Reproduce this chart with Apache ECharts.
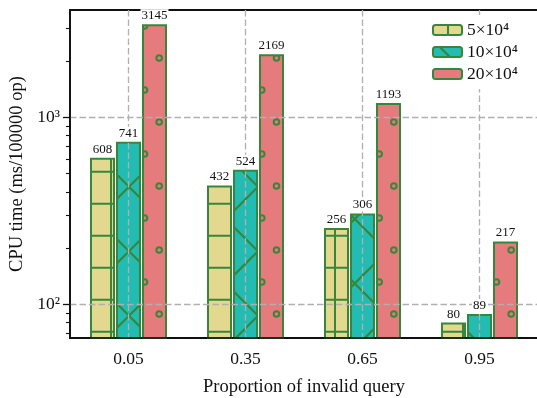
<!DOCTYPE html>
<html><head><meta charset="utf-8">
<script src="https://cdn.jsdelivr.net/npm/echarts@6/dist/echarts.min.js"></script>
<style>html,body{margin:0;padding:0;background:#fff}#c{width:537px;height:398px}</style>
</head><body><div id="c"></div>
<script>
const categories = ['0.05', '0.35', '0.65', '0.95'];
const seriesNames = ['5×10⁴', '10×10⁴', '20×10⁴'];
const values5 = [608, 432, 256, 80];
const values10 = [741, 524, 306, 89];
const values20 = [3145, 2169, 1193, 217];
const yTicks = [100, 1000];
const yMinorTicks = [70, 80, 90, 200, 300, 400, 500, 600, 700, 800, 900, 2000, 3000];

const EDGE = '#38863c';
const FONT = '"Liberation Serif", "Times New Roman", serif';
const SUP = {'0':'⁰','1':'¹','2':'²','3':'³','4':'⁴','5':'⁵'};

function tile(w, h, bg, draw) {
  const c = document.createElement('canvas');
  c.width = w; c.height = h;
  const g = c.getContext('2d');
  g.fillStyle = bg; g.fillRect(0, 0, w, h);
  g.strokeStyle = EDGE;
  draw(g);
  return {image: c, repeat: 'repeat'};
}
const gridPat = tile(32, 32, '#e2d98e', g => {
  g.lineWidth = 2; g.beginPath();
  g.moveTo(15, 0); g.lineTo(15, 32);
  g.moveTo(0, 11.7); g.lineTo(32, 11.7);
  g.stroke();
});
const xPat = tile(129, 129, '#22bcb2', g => {
  g.lineWidth = 2.2; g.beginPath();
  for (let n = -4; n <= 6; n++) {
    const a = 57.7 + n * 64.5;
    g.moveTo(a + 20, -20); g.lineTo(a - 160, 160);
    const b = 6.8 + n * 64.5;
    g.moveTo(b - 20, -20); g.lineTo(b + 160, 160);
  }
  g.stroke();
});
const circPat = tile(88, 64, '#e67b7e', g => {
  g.lineWidth = 2;
  const pts = [[27.17, 26], [12.5, 58]];
  for (const [px, py] of pts) for (let k = 0; k < 3; k++) {
    const cx0 = px + k * 29.333;
    for (const dx of [-88, 0, 88]) for (const dy of [-64, 0, 64]) {
      g.beginPath(); g.arc(cx0 + dx, py + dy, 2.8, 0, Math.PI * 2); g.stroke();
    }
  }
});
const patterns = [gridPat, xPat, circPat];
const allValues = [values5, values10, values20];

const chart = echarts.init(document.getElementById('c'), null, {renderer: 'canvas'});
const barSeries = allValues.map((v, i) => ({
  type: 'bar', name: seriesNames[i], data: v, barWidth: 25, barGap: '4%', z: 2,
  itemStyle: {color: patterns[i], borderColor: EDGE, borderWidth: 2}
}));
const labelSeries = allValues.map((v, i) => ({
  type: 'bar', name: seriesNames[i] + ' label', data: v, xAxisIndex: 1, barWidth: 25, barGap: '4%', z: 4,
  silent: true,
  itemStyle: {color: 'rgba(0,0,0,0)', borderWidth: 0},
  label: {show: true, position: 'top', distance: 2, fontFamily: FONT, fontSize: 13, color: '#111',
          backgroundColor: '#fff', padding: [0, 1, 0, 1]}
}));
const yMin = 66.2, yMax = 3743;
const dashed = {color: '#b0b0b0', width: 1.3, type: [6.5, 3]};
chart.setOption({
  animation: false,
  grid: {left: 70, right: -1, top: 10, bottom: 60, containLabel: false, outerBoundsMode: 'none',
         show: true, borderColor: '#111', borderWidth: 1.8},
  legend: {
    data: seriesNames, orient: 'vertical', left: 424, top: 15, padding: [6, 8, 6, 8],
    backgroundColor: '#fff', itemWidth: 29, itemHeight: 10, itemGap: 4, z: 10,
    textStyle: {fontFamily: FONT, fontSize: 17.5, color: '#111', lineHeight: 18}
  },
  xAxis: [{
    type: 'category', data: categories, z: 3,
    axisLine: {lineStyle: {color: '#111', width: 1.7}},
    axisTick: {alignWithLabel: true, length: 5, lineStyle: {color: '#111', width: 1.3}},
    axisLabel: {fontFamily: FONT, fontSize: 17.5, color: '#111', margin: 12},
    splitLine: {show: true, alignWithLabel: true, lineStyle: dashed},
    name: 'Proportion of invalid query', nameLocation: 'middle', nameGap: 40,
    nameTextStyle: {fontFamily: FONT, fontSize: 18.5, color: '#111'}
  }, {
    type: 'category', data: categories, show: false
  }],
  yAxis: [{
    type: 'log', min: yMin, max: yMax, z: 3,
    axisLine: {show: true, lineStyle: {color: '#111', width: 1.7}},
    axisTick: {show: false},
    axisLabel: {customValues: yTicks, fontFamily: FONT, fontSize: 17.5, color: '#111', margin: 10,
      formatter: v => '10' + SUP[String(Math.round(Math.log10(v)))]},
    splitLine: {show: true, showMinLine: false, showMaxLine: false, lineStyle: dashed},
    name: 'CPU time (ms/100000 op)', nameLocation: 'middle', nameGap: 42,
    nameTextStyle: {fontFamily: FONT, fontSize: 18.5, color: '#111'}
  }, {
    type: 'log', min: yMin, max: yMax, position: 'left', z: 3,
    axisLine: {show: false},
    axisTick: {show: true, customValues: yTicks, length: 7, lineStyle: {color: '#111', width: 1.3}},
    axisLabel: {show: false},
    splitLine: {show: false}
  }, {
    type: 'log', min: yMin, max: yMax, position: 'left', z: 3,
    axisLine: {show: false},
    axisTick: {show: true, customValues: yMinorTicks, length: 4, lineStyle: {color: '#111', width: 1.1}},
    axisLabel: {show: false},
    splitLine: {show: false}
  }],
  series: barSeries.concat(labelSeries)
});
</script>
</body></html>
